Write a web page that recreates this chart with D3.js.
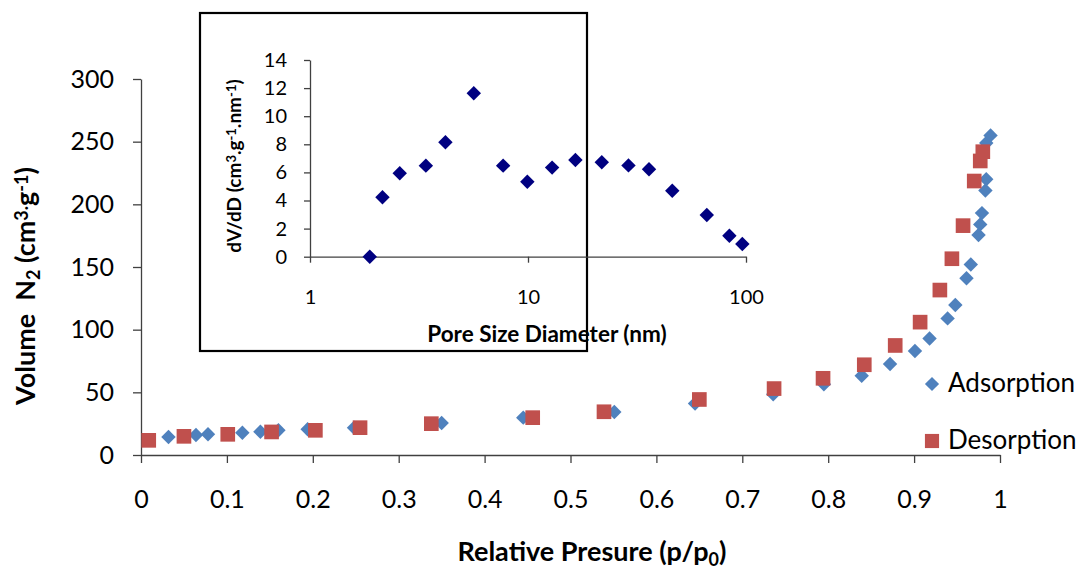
<!DOCTYPE html>
<html>
<head>
<meta charset="utf-8">
<script src="https://cdn.jsdelivr.net/npm/d3@7"></script>
<style>
  body { margin: 0; background: #fff; }
  text { font-family: Lato, "Open Sans", sans-serif; fill: #000; }
</style>
</head>
<body>
<svg id="chart" width="1084" height="569"></svg>
<script>
// Main isotherm: adsorption branch
var adsP = [0.032, 0.064, 0.078, 0.118, 0.139, 0.160, 0.194, 0.248, 0.350, 0.445,
            0.551, 0.645, 0.736, 0.795, 0.839, 0.872, 0.901, 0.918, 0.939, 0.948,
            0.961, 0.966, 0.975, 0.977, 0.979, 0.983, 0.984, 0.984, 0.989];
var adsV = [14.4, 16.0, 16.5, 17.8, 18.6, 19.7, 20.5, 21.8, 25.5, 29.8,
            34.3, 41.1, 48.4, 56.4, 63.3, 72.6, 83, 93, 109, 119.7,
            141, 152, 175.5, 184, 193, 211, 220, 249, 255];

// desorption branch
var desP = [0.009, 0.050, 0.101, 0.152, 0.203, 0.255, 0.338, 0.456, 0.539, 0.650,
            0.737, 0.794, 0.842, 0.878, 0.907, 0.930, 0.944, 0.957, 0.970, 0.977, 0.980];
var desV = [11.7, 14.9, 16.5, 18.4, 19.7, 21.8, 25.0, 29.8, 34.5, 44.3,
            53.0, 61.2, 72.0, 87.4, 106, 131.6, 156.6, 183, 218.6, 234.6, 242];

// Inset: pore size distribution
var poreD = [1.88, 2.15, 2.58, 3.40, 4.18, 5.64, 7.69, 9.93, 12.9, 16.5,
             21.8, 28.9, 35.9, 45.9, 66.1, 83.9, 96.2];
var dVdD = [0, 4.23, 5.94, 6.48, 8.14, 11.63, 6.48, 5.34, 6.34, 6.88,
            6.72, 6.5, 6.22, 4.70, 2.97, 1.49, 0.90];

var xTicks = [0, 0.1, 0.2, 0.3, 0.4, 0.5, 0.6, 0.7, 0.8, 0.9, 1];
var xTickLabels = ['0', '0.1', '0.2', '0.3', '0.4', '0.5', '0.6', '0.7', '0.8', '0.9', '1'];
var yTicks = [0, 50, 100, 150, 200, 250, 300];
var insetXTicks = [1, 10, 100];
var insetYTicks = [0, 2, 4, 6, 8, 10, 12, 14];
var seriesNames = ['Adsorption', 'Desorption'];
var seriesColors = ['#4F81BD', '#C0504D'];

var svg = d3.select('#chart');
var axisColor = '#404040';

var x = d3.scaleLinear().domain([0, 1]).range([141, 1000]);
var y = d3.scaleLinear().domain([0, 300]).range([455, 79]);

var diamond = function(area) {
  return d3.symbol().type(d3.symbolSquare).size(area)();
};

var styleAxis = function(g, size) {
  g.select('.domain').attr('stroke', axisColor).attr('stroke-width', 1.3);
  g.selectAll('.tick line').attr('stroke', axisColor).attr('stroke-width', 1.3);
  g.selectAll('.tick text').attr('fill', '#000')
    .style('font-family', 'Lato, sans-serif').style('font-size', size + 'px');
};

// little helper for titles with sub/superscripts
var richText = function(t, parts, smallSize) {
  parts.forEach(function(p) {
    var s = t.append('tspan').text(p[0]);
    if (p[1] === 'sub') s.attr('baseline-shift', '-25%').style('font-size', smallSize + 'px');
    if (p[1] === 'sup') s.attr('baseline-shift', '40%').style('font-size', smallSize + 'px');
  });
};

// main axes
var gx = svg.append('g').attr('transform', 'translate(0,455)')
  .call(d3.axisBottom(x).tickValues(xTicks)
    .tickFormat(function(d, i) { return xTickLabels[i]; })
    .tickSize(8).tickSizeOuter(0).tickPadding(27));
styleAxis(gx, 25);

var gy = svg.append('g').attr('transform', 'translate(141,0)')
  .call(d3.axisLeft(y).tickValues(yTicks).tickSize(8).tickSizeOuter(0).tickPadding(19));
styleAxis(gy, 25);

// main markers
var ads = adsP.map(function(p, i) { return { p: p, v: adsV[i] }; });
var des = desP.map(function(p, i) { return { p: p, v: desV[i] }; });

svg.append('g').selectAll('path').data(ads).enter().append('path')
  .attr('d', diamond(104))
  .attr('fill', seriesColors[0])
  .attr('transform', function(d) { return 'translate(' + x(d.p) + ',' + y(d.v) + ') rotate(45)'; });

svg.append('g').selectAll('path').data(des).enter().append('path')
  .attr('d', d3.symbol().type(d3.symbolSquare).size(215)())
  .attr('fill', seriesColors[1])
  .attr('transform', function(d) { return 'translate(' + x(d.p) + ',' + y(d.v) + ')'; });

// legend
var legend = svg.append('g');
legend.append('path').attr('d', diamond(100)).attr('fill', seriesColors[0])
  .attr('transform', 'translate(932,384) rotate(45)');
legend.append('path').attr('d', d3.symbol().type(d3.symbolSquare).size(200)()).attr('fill', seriesColors[1])
  .attr('transform', 'translate(932,441)');
legend.selectAll('text').data(seriesNames).enter().append('text')
  .attr('x', 948).attr('y', function(d, i) { return 392 + i * 57; })
  .style('font-size', '26px')
  .text(function(d) { return d; });

// main axis titles
var xt = svg.append('text').attr('x', 592).attr('y', 561)
  .attr('text-anchor', 'middle').style('font-size', '27px').style('font-weight', 'bold');
richText(xt, [['Relative Presure (p/p'], ['0', 'sub'], [')']], 18);

var yt = svg.append('text').attr('transform', 'translate(35,286) rotate(-90)')
  .attr('text-anchor', 'middle').style('font-size', '27px').style('font-weight', 'bold');
richText(yt, [['Volume\u00a0 N'], ['2', 'sub'], [' (cm'], ['3.', 'sup'], ['g'], ['-1', 'sup'], [')']], 18);

// inset
var inset = svg.append('g');
inset.append('rect').attr('x', 200).attr('y', 13).attr('width', 387).attr('height', 338)
  .attr('fill', '#fff').attr('stroke', '#000').attr('stroke-width', 2.2);

var ix = d3.scaleLog().domain([1, 100]).range([310, 746]);
var iy = d3.scaleLinear().domain([0, 14]).range([256.7, 60]);

var igx = inset.append('g').attr('transform', 'translate(0,256.7)')
  .call(d3.axisBottom(ix).tickValues(insetXTicks).tickFormat(d3.format('d'))
    .tickSize(6).tickSizeOuter(0).tickPadding(27));
styleAxis(igx, 20);

var igy = inset.append('g').attr('transform', 'translate(310,0)')
  .call(d3.axisLeft(iy).tickValues(insetYTicks).tickSize(6).tickSizeOuter(0).tickPadding(17));
styleAxis(igy, 20);

var psd = poreD.map(function(d, i) { return { d: d, v: dVdD[i] }; });
inset.append('g').selectAll('path').data(psd).enter().append('path')
  .attr('d', diamond(104))
  .attr('fill', '#000080')
  .attr('transform', function(d) { return 'translate(' + ix(d.d) + ',' + iy(d.v) + ') rotate(45)'; });

inset.append('text').attr('x', 547).attr('y', 342)
  .attr('text-anchor', 'middle').style('font-size', '22.5px').style('font-weight', 'bold')
  .text('Pore Size Diameter (nm)');

var iyt = inset.append('text').attr('transform', 'translate(241,166) rotate(-90)')
  .attr('text-anchor', 'middle').style('font-size', '19px').style('font-weight', 'bold');
richText(iyt, [['dV/dD (cm'], ['3', 'sup'], ['.g'], ['-1', 'sup'], ['.nm'], ['-1', 'sup'], [')']], 13);
</script>
</body>
</html>
